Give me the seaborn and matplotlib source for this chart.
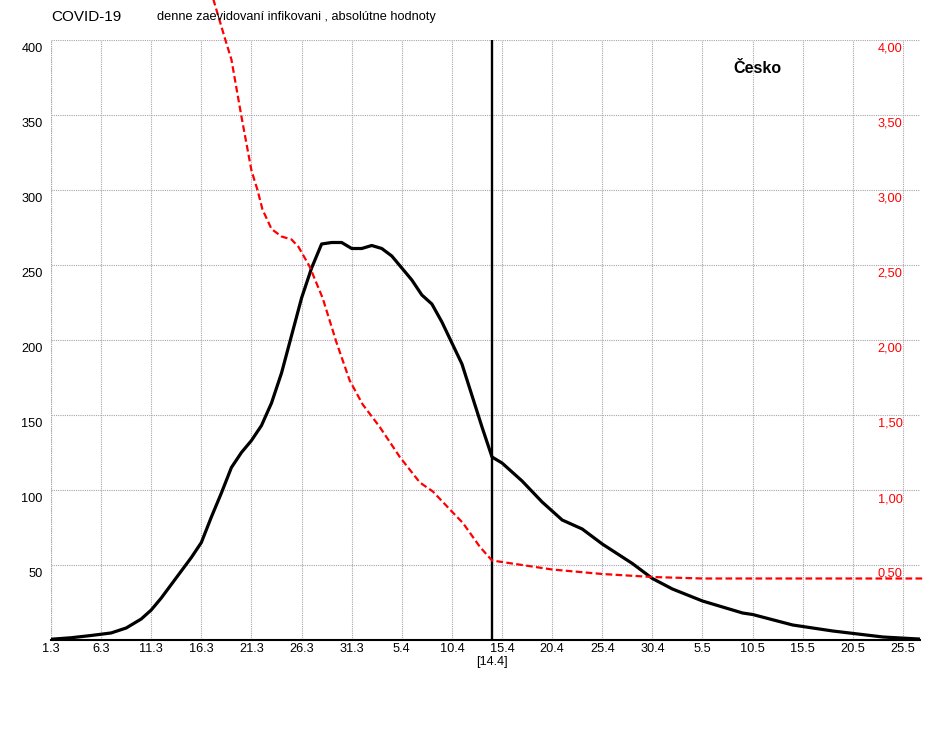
import numpy as np
import pandas as pd
import seaborn as sns
import matplotlib.pyplot as plt
from matplotlib.transforms import ScaledTranslation, blended_transform_factory


# --- COVID-19, Cesko: daily new cases (left) and ratio (right) ---

start = pd.Timestamp('2020-03-01')
cut_day = pd.Timestamp('2020-04-14')

# black curve: day offset from 1.3 and daily count
case_days = [0, 2, 4, 6, 7.5, 9, 10, 11, 12, 13, 14, 15, 16, 17, 18, 19, 20,
             21, 22, 23, 24, 25, 26, 27, 28, 29, 30, 31, 32, 33, 34, 35, 36,
             37, 38, 39, 40, 41, 42, 43, 44, 45, 46, 47, 48, 49, 50, 51, 53,
             55, 58, 60, 62, 65, 69, 70, 74, 78, 83, 87]
case_vals = [0.5, 1.5, 3, 4.7, 8, 14, 20, 28, 37, 46, 55, 65, 82, 98, 115, 125,
             133, 143, 158, 178, 203, 228, 248, 264, 265, 265, 261, 261, 263,
             261, 256, 248, 240, 230, 224, 212, 198, 184, 163, 142, 122, 118,
             112, 106, 99, 92, 86, 80, 74, 64, 51, 41, 34, 26, 18, 17, 10, 6,
             2, 0.5]

# red dashed curve (right axis)
ratio_days = [15, 16.2, 17.4, 18, 18.5, 19, 19.5, 20, 20.6, 21.1, 22, 23, 24,
              24.7, 25.8, 27.1, 28.5, 29.8, 31.1, 32.8, 34.8, 36.8, 38.1,
              39.8, 41.1, 42.8, 44, 45, 47, 50, 55, 60, 65, 70, 87]
ratio_vals = [4.55, 4.27, 4.0, 3.87, 3.68, 3.49, 3.31, 3.13, 3.0, 2.87, 2.74,
              2.69, 2.67, 2.62, 2.49, 2.28, 1.98, 1.73, 1.57, 1.42, 1.22, 1.05,
              0.99, 0.87, 0.78, 0.62, 0.53, 0.52, 0.50, 0.47, 0.44, 0.42, 0.41,
              0.41, 0.41]

left_ticks = [50, 100, 150, 200, 250, 300, 350, 400]
right_ticks = [0.5, 1.0, 1.5, 2.0, 2.5, 3.0, 3.5, 4.0]

cases = pd.DataFrame({'date': start + pd.to_timedelta(case_days, unit='D'),
                      'value': case_vals})
ratio = pd.DataFrame({'date': start + pd.to_timedelta(ratio_days, unit='D'),
                      'value': ratio_vals})

sns.set_style('white')
plt.rcParams['font.family'] = ['Liberation Sans', 'DejaVu Sans']
plt.rcParams['text.color'] = 'black'

fig = plt.figure(figsize=(9.5, 7.4), dpi=100)
ax = fig.add_axes([51 / 950, 100 / 740, 869 / 950, 600 / 740])

grid_kw = dict(color='#aaa3ad', linestyle=(0, (1, 1)), linewidth=0.8)
x_ticks = pd.date_range(start, periods=18, freq='5D')

sns.lineplot(data=cases, x='date', y='value', ax=ax, color='black',
             linewidth=2.3, zorder=4)
ax.axvline(cut_day, color='black', linewidth=1.7, zorder=5)

ax.set_xlim(start, start + pd.Timedelta(days=86.7))
ax.set_ylim(0, 400)
ax.set_xticks(x_ticks)
ax.set_xticklabels([f'{d.day}.{d.month}' for d in x_ticks])
ax.set_yticks(left_ticks)
ax.set_yticklabels([str(v) for v in left_ticks], va='top')
ax.set(xlabel='', ylabel='')
ax.tick_params(length=0, labelsize=9.2, labelcolor='black')
ax.tick_params(axis='x', pad=2.5)
ax.tick_params(axis='y', pad=6)
for lab in ax.get_yticklabels():
    lab.set_transform(lab.get_transform() + ScaledTranslation(0, -0.03, fig.dpi_scale_trans))

# grid lines drawn by hand so the top/left edges look dotted
for d in x_ticks:
    ax.axvline(d, zorder=0, **grid_kw)
for v in left_ticks:
    ax.axhline(v, zorder=0, **grid_kw)
ax.axvline(start, zorder=0, **grid_kw)

for s in ['top', 'left', 'right']:
    ax.spines[s].set_visible(False)
ax.spines['bottom'].set_color('black')
ax.spines['bottom'].set_linewidth(1.5)

ax2 = ax.twinx()
sns.lineplot(data=ratio, x='date', y='value', ax=ax2, color='red',
             linewidth=1.6, clip_on=False)
ax2.lines[-1].set_dashes([3, 1.5])
ax2.set_ylim(0, 4)
ax2.set_yticks(right_ticks)
ax2.set_yticklabels([f'{v:.2f}'.replace('.', ',') for v in right_ticks],
                    ha='right', va='top')
ax2.set_ylabel('')
ax2.tick_params(axis='y', length=0, pad=-12.5, labelsize=9.2, labelcolor='red')
for lab in ax2.get_yticklabels():
    lab.set_transform(lab.get_transform() + ScaledTranslation(0, -0.03, fig.dpi_scale_trans))
for s in ax2.spines.values():
    s.set_visible(False)

trans = blended_transform_factory(ax.transData, ax.transAxes)
ax.text(cut_day, -0.037, f'[{cut_day.day}.{cut_day.month}]', transform=trans,
        ha='center', va='center', fontsize=9.2, color='black')

ax.text(0.785, 0.953, 'Česko', transform=ax.transAxes, fontsize=11.5,
        fontweight='bold', va='center', ha='left', color='black')

fig.text(51 / 950, 1 - 17 / 740, 'COVID-19', fontsize=11, va='center',
         color='black')
fig.text(157 / 950, 1 - 17 / 740,
         'denne zaevidovaní infikovani , absolútne hodnoty',
         fontsize=9.2, va='center', color='black')

fig.savefig('out.png', dpi=100)
